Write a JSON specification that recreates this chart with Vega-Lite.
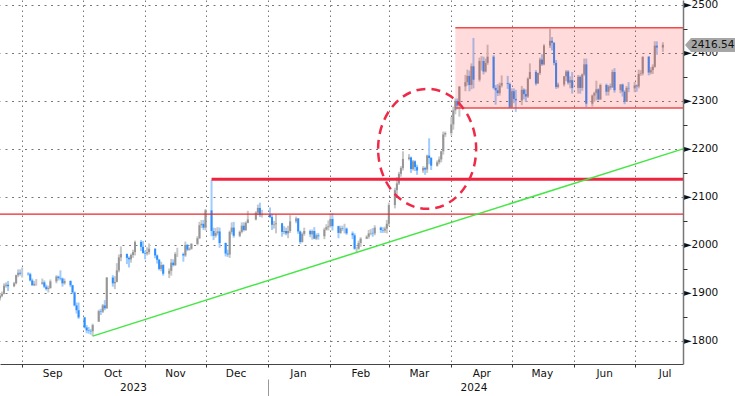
{
"$schema":"https://vega.github.io/schema/vega-lite/v6.json",
"width":683,"height":364,
"autosize":{"type":"none"},
"padding":{"left":0,"top":0,"right":52,"bottom":32},
"background":"white",
"config":{"view":{"stroke":null},"font":"DejaVu Sans","axis":{"title":null}},
"resolve":{"axis":{"x":"independent","y":"independent"}},
"datasets":{"ohlc":[
{"d":"2023-08-21","o":1889,"h":1897,"l":1884,"c":1894},
{"d":"2023-08-22","o":1894,"h":1903,"l":1891,"c":1898},
{"d":"2023-08-23","o":1898,"h":1920,"l":1897,"c":1915},
{"d":"2023-08-24","o":1915,"h":1922,"l":1911,"c":1917},
{"d":"2023-08-25","o":1917,"h":1925,"l":1904,"c":1914},
{"d":"2023-08-28","o":1914,"h":1923,"l":1912,"c":1920},
{"d":"2023-08-29","o":1920,"h":1938,"l":1918,"c":1937},
{"d":"2023-08-30","o":1937,"h":1949,"l":1933,"c":1942},
{"d":"2023-08-31","o":1942,"h":1949,"l":1936,"c":1940},
{"d":"2023-09-01","o":1940,"h":1953,"l":1932,"c":1940},
{"d":"2023-09-04","o":1940,"h":1943,"l":1936,"c":1939},
{"d":"2023-09-05","o":1939,"h":1942,"l":1924,"c":1926},
{"d":"2023-09-06","o":1926,"h":1930,"l":1915,"c":1916},
{"d":"2023-09-07","o":1916,"h":1925,"l":1914,"c":1919},
{"d":"2023-09-08","o":1919,"h":1929,"l":1915,"c":1919},
{"d":"2023-09-11","o":1919,"h":1930,"l":1917,"c":1922},
{"d":"2023-09-12","o":1922,"h":1926,"l":1910,"c":1913},
{"d":"2023-09-13","o":1913,"h":1917,"l":1905,"c":1908},
{"d":"2023-09-14","o":1908,"h":1915,"l":1901,"c":1910},
{"d":"2023-09-15","o":1910,"h":1928,"l":1909,"c":1924},
{"d":"2023-09-18","o":1924,"h":1937,"l":1920,"c":1934},
{"d":"2023-09-19","o":1934,"h":1936,"l":1926,"c":1931},
{"d":"2023-09-20","o":1931,"h":1947,"l":1926,"c":1930},
{"d":"2023-09-21","o":1930,"h":1932,"l":1913,"c":1920},
{"d":"2023-09-22","o":1920,"h":1930,"l":1917,"c":1925},
{"d":"2023-09-25","o":1925,"h":1926,"l":1912,"c":1916},
{"d":"2023-09-26","o":1916,"h":1917,"l":1899,"c":1901},
{"d":"2023-09-27","o":1901,"h":1903,"l":1872,"c":1874},
{"d":"2023-09-28","o":1874,"h":1880,"l":1857,"c":1864},
{"d":"2023-09-29","o":1864,"h":1880,"l":1846,"c":1849},
{"d":"2023-10-02","o":1849,"h":1850,"l":1826,"c":1828},
{"d":"2023-10-03","o":1828,"h":1833,"l":1816,"c":1822},
{"d":"2023-10-04","o":1822,"h":1829,"l":1815,"c":1821},
{"d":"2023-10-05","o":1821,"h":1825,"l":1813,"c":1820},
{"d":"2023-10-06","o":1820,"h":1836,"l":1810,"c":1833},
{"d":"2023-10-09","o":1840,"h":1865,"l":1840,"c":1862},
{"d":"2023-10-10","o":1862,"h":1867,"l":1854,"c":1861},
{"d":"2023-10-11","o":1861,"h":1877,"l":1858,"c":1874},
{"d":"2023-10-12","o":1874,"h":1885,"l":1864,"c":1868},
{"d":"2023-10-13","o":1868,"h":1933,"l":1867,"c":1932},
{"d":"2023-10-16","o":1932,"h":1937,"l":1913,"c":1920},
{"d":"2023-10-17","o":1920,"h":1935,"l":1908,"c":1923},
{"d":"2023-10-18","o":1923,"h":1962,"l":1922,"c":1947},
{"d":"2023-10-19","o":1947,"h":1980,"l":1943,"c":1974},
{"d":"2023-10-20","o":1974,"h":1997,"l":1966,"c":1981},
{"d":"2023-10-23","o":1981,"h":1982,"l":1960,"c":1973},
{"d":"2023-10-24","o":1973,"h":1976,"l":1953,"c":1970},
{"d":"2023-10-25","o":1970,"h":1982,"l":1963,"c":1979},
{"d":"2023-10-26","o":1979,"h":1990,"l":1973,"c":1985},
{"d":"2023-10-27","o":1985,"h":2009,"l":1978,"c":2006},
{"d":"2023-10-30","o":2006,"h":2010,"l":1987,"c":1996},
{"d":"2023-10-31","o":1996,"h":2008,"l":1982,"c":1983},
{"d":"2023-11-01","o":1983,"h":1988,"l":1970,"c":1982},
{"d":"2023-11-02","o":1982,"h":1995,"l":1978,"c":1985},
{"d":"2023-11-03","o":1985,"h":2003,"l":1980,"c":1992},
{"d":"2023-11-06","o":1992,"h":1993,"l":1972,"c":1978},
{"d":"2023-11-07","o":1978,"h":1980,"l":1961,"c":1969},
{"d":"2023-11-08","o":1969,"h":1971,"l":1947,"c":1950},
{"d":"2023-11-09","o":1950,"h":1965,"l":1945,"c":1958},
{"d":"2023-11-10","o":1958,"h":1960,"l":1936,"c":1940},
{"d":"2023-11-13","o":1940,"h":1951,"l":1931,"c":1946},
{"d":"2023-11-14","o":1946,"h":1971,"l":1936,"c":1963},
{"d":"2023-11-15","o":1963,"h":1970,"l":1955,"c":1958},
{"d":"2023-11-16","o":1958,"h":1985,"l":1956,"c":1981},
{"d":"2023-11-17","o":1981,"h":1994,"l":1975,"c":1981},
{"d":"2023-11-20","o":1981,"h":1984,"l":1965,"c":1978},
{"d":"2023-11-21","o":1978,"h":2007,"l":1975,"c":2000},
{"d":"2023-11-22","o":2000,"h":2002,"l":1987,"c":1990},
{"d":"2023-11-23","o":1990,"h":1995,"l":1988,"c":1992},
{"d":"2023-11-24","o":1992,"h":2004,"l":1990,"c":2002},
{"d":"2023-11-27","o":2002,"h":2018,"l":1999,"c":2014},
{"d":"2023-11-28","o":2014,"h":2048,"l":2012,"c":2041},
{"d":"2023-11-29","o":2041,"h":2052,"l":2035,"c":2044},
{"d":"2023-11-30","o":2044,"h":2052,"l":2031,"c":2036},
{"d":"2023-12-01","o":2036,"h":2075,"l":2030,"c":2072},
{"d":"2023-12-04","o":2072,"h":2135,"l":2018,"c":2029},
{"d":"2023-12-05","o":2029,"h":2036,"l":2010,"c":2019},
{"d":"2023-12-06","o":2019,"h":2035,"l":2015,"c":2025},
{"d":"2023-12-07","o":2025,"h":2037,"l":2020,"c":2028},
{"d":"2023-12-08","o":2028,"h":2036,"l":1994,"c":2004},
{"d":"2023-12-11","o":2004,"h":2005,"l":1976,"c":1982},
{"d":"2023-12-12","o":1982,"h":1990,"l":1975,"c":1980},
{"d":"2023-12-13","o":1980,"h":2030,"l":1973,"c":2027},
{"d":"2023-12-14","o":2027,"h":2047,"l":2022,"c":2036},
{"d":"2023-12-15","o":2036,"h":2048,"l":2015,"c":2019},
{"d":"2023-12-18","o":2019,"h":2030,"l":2016,"c":2027},
{"d":"2023-12-19","o":2027,"h":2047,"l":2024,"c":2040},
{"d":"2023-12-20","o":2040,"h":2047,"l":2028,"c":2031},
{"d":"2023-12-21","o":2031,"h":2049,"l":2029,"c":2046},
{"d":"2023-12-22","o":2046,"h":2071,"l":2045,"c":2053},
{"d":"2023-12-26","o":2053,"h":2070,"l":2051,"c":2067},
{"d":"2023-12-27","o":2067,"h":2084,"l":2062,"c":2077},
{"d":"2023-12-28","o":2077,"h":2088,"l":2058,"c":2062},
{"d":"2023-12-29","o":2062,"h":2073,"l":2057,"c":2063},
{"d":"2024-01-02","o":2063,"h":2078,"l":2056,"c":2058},
{"d":"2024-01-03","o":2058,"h":2065,"l":2031,"c":2042},
{"d":"2024-01-04","o":2042,"h":2050,"l":2034,"c":2043},
{"d":"2024-01-05","o":2043,"h":2064,"l":2024,"c":2045},
{"d":"2024-01-08","o":2045,"h":2046,"l":2017,"c":2027},
{"d":"2024-01-09","o":2027,"h":2039,"l":2022,"c":2029},
{"d":"2024-01-10","o":2029,"h":2036,"l":2020,"c":2024},
{"d":"2024-01-11","o":2024,"h":2040,"l":2014,"c":2029},
{"d":"2024-01-12","o":2029,"h":2062,"l":2025,"c":2049},
{"d":"2024-01-15","o":2049,"h":2059,"l":2045,"c":2055},
{"d":"2024-01-16","o":2055,"h":2056,"l":2023,"c":2028},
{"d":"2024-01-17","o":2028,"h":2030,"l":2002,"c":2006},
{"d":"2024-01-18","o":2006,"h":2026,"l":2005,"c":2023},
{"d":"2024-01-19","o":2023,"h":2036,"l":2019,"c":2029},
{"d":"2024-01-22","o":2029,"h":2032,"l":2016,"c":2022},
{"d":"2024-01-23","o":2022,"h":2032,"l":2011,"c":2029},
{"d":"2024-01-24","o":2029,"h":2037,"l":2012,"c":2013},
{"d":"2024-01-25","o":2013,"h":2024,"l":2010,"c":2020},
{"d":"2024-01-26","o":2020,"h":2025,"l":2011,"c":2018},
{"d":"2024-01-29","o":2018,"h":2036,"l":2012,"c":2032},
{"d":"2024-01-30","o":2032,"h":2043,"l":2030,"c":2037},
{"d":"2024-01-31","o":2037,"h":2051,"l":2030,"c":2039},
{"d":"2024-02-01","o":2039,"h":2065,"l":2036,"c":2054},
{"d":"2024-02-02","o":2054,"h":2066,"l":2030,"c":2039},
{"d":"2024-02-05","o":2039,"h":2040,"l":2014,"c":2025},
{"d":"2024-02-06","o":2025,"h":2040,"l":2023,"c":2035},
{"d":"2024-02-07","o":2035,"h":2040,"l":2029,"c":2034},
{"d":"2024-02-08","o":2034,"h":2044,"l":2024,"c":2034},
{"d":"2024-02-09","o":2034,"h":2036,"l":2021,"c":2024},
{"d":"2024-02-12","o":2024,"h":2028,"l":2012,"c":2020},
{"d":"2024-02-13","o":2020,"h":2024,"l":1990,"c":1992},
{"d":"2024-02-14","o":1992,"h":1996,"l":1984,"c":1992},
{"d":"2024-02-15","o":1992,"h":2009,"l":1990,"c":2004},
{"d":"2024-02-16","o":2004,"h":2016,"l":1996,"c":2013},
{"d":"2024-02-19","o":2013,"h":2020,"l":2012,"c":2017},
{"d":"2024-02-20","o":2017,"h":2031,"l":2013,"c":2024},
{"d":"2024-02-21","o":2024,"h":2033,"l":2020,"c":2025},
{"d":"2024-02-22","o":2025,"h":2035,"l":2017,"c":2024},
{"d":"2024-02-23","o":2024,"h":2041,"l":2020,"c":2036},
{"d":"2024-02-26","o":2036,"h":2038,"l":2025,"c":2031},
{"d":"2024-02-27","o":2031,"h":2037,"l":2025,"c":2030},
{"d":"2024-02-28","o":2030,"h":2038,"l":2025,"c":2034},
{"d":"2024-02-29","o":2034,"h":2052,"l":2024,"c":2044},
{"d":"2024-03-01","o":2044,"h":2088,"l":2039,"c":2083},
{"d":"2024-03-04","o":2083,"h":2119,"l":2076,"c":2114},
{"d":"2024-03-05","o":2114,"h":2141,"l":2104,"c":2128},
{"d":"2024-03-06","o":2128,"h":2152,"l":2125,"c":2148},
{"d":"2024-03-07","o":2148,"h":2164,"l":2142,"c":2160},
{"d":"2024-03-08","o":2160,"h":2195,"l":2155,"c":2179},
{"d":"2024-03-11","o":2179,"h":2189,"l":2176,"c":2182},
{"d":"2024-03-12","o":2182,"h":2184,"l":2150,"c":2158},
{"d":"2024-03-13","o":2158,"h":2177,"l":2155,"c":2174},
{"d":"2024-03-14","o":2174,"h":2176,"l":2154,"c":2162},
{"d":"2024-03-15","o":2162,"h":2167,"l":2146,"c":2155},
{"d":"2024-03-18","o":2155,"h":2164,"l":2150,"c":2160},
{"d":"2024-03-19","o":2160,"h":2163,"l":2146,"c":2157},
{"d":"2024-03-20","o":2157,"h":2188,"l":2150,"c":2186},
{"d":"2024-03-21","o":2186,"h":2222,"l":2168,"c":2181},
{"d":"2024-03-22","o":2181,"h":2183,"l":2156,"c":2165},
{"d":"2024-03-25","o":2165,"h":2176,"l":2163,"c":2172},
{"d":"2024-03-26","o":2172,"h":2184,"l":2168,"c":2178},
{"d":"2024-03-27","o":2178,"h":2196,"l":2172,"c":2195},
{"d":"2024-03-28","o":2195,"h":2236,"l":2188,"c":2230},
{"d":"2024-03-29","o":2230,"h":2236,"l":2225,"c":2233},
{"d":"2024-04-01","o":2233,"h":2266,"l":2228,"c":2251},
{"d":"2024-04-02","o":2251,"h":2288,"l":2240,"c":2280},
{"d":"2024-04-03","o":2280,"h":2305,"l":2272,"c":2300},
{"d":"2024-04-04","o":2300,"h":2305,"l":2282,"c":2290},
{"d":"2024-04-05","o":2290,"h":2330,"l":2267,"c":2330},
{"d":"2024-04-08","o":2330,"h":2354,"l":2320,"c":2339},
{"d":"2024-04-09","o":2339,"h":2365,"l":2332,"c":2352},
{"d":"2024-04-10","o":2352,"h":2363,"l":2320,"c":2333},
{"d":"2024-04-11","o":2333,"h":2378,"l":2324,"c":2372},
{"d":"2024-04-12","o":2372,"h":2431,"l":2326,"c":2344},
{"d":"2024-04-15","o":2344,"h":2390,"l":2340,"c":2383},
{"d":"2024-04-16","o":2383,"h":2393,"l":2363,"c":2383},
{"d":"2024-04-17","o":2383,"h":2392,"l":2355,"c":2361},
{"d":"2024-04-18","o":2361,"h":2388,"l":2359,"c":2379},
{"d":"2024-04-19","o":2379,"h":2417,"l":2375,"c":2392},
{"d":"2024-04-22","o":2392,"h":2395,"l":2324,"c":2327},
{"d":"2024-04-23","o":2327,"h":2333,"l":2292,"c":2322},
{"d":"2024-04-24","o":2322,"h":2335,"l":2310,"c":2316},
{"d":"2024-04-25","o":2316,"h":2338,"l":2311,"c":2332},
{"d":"2024-04-26","o":2332,"h":2353,"l":2328,"c":2337},
{"d":"2024-04-29","o":2337,"h":2352,"l":2325,"c":2335},
{"d":"2024-04-30","o":2335,"h":2338,"l":2285,"c":2286},
{"d":"2024-05-01","o":2286,"h":2326,"l":2285,"c":2320},
{"d":"2024-05-02","o":2320,"h":2326,"l":2295,"c":2304},
{"d":"2024-05-03","o":2304,"h":2323,"l":2277,"c":2301},
{"d":"2024-05-06","o":2301,"h":2331,"l":2291,"c":2323},
{"d":"2024-05-07","o":2323,"h":2326,"l":2303,"c":2314},
{"d":"2024-05-08","o":2314,"h":2324,"l":2298,"c":2309},
{"d":"2024-05-09","o":2309,"h":2349,"l":2306,"c":2346},
{"d":"2024-05-10","o":2346,"h":2378,"l":2345,"c":2360},
{"d":"2024-05-13","o":2360,"h":2364,"l":2332,"c":2336},
{"d":"2024-05-14","o":2336,"h":2359,"l":2336,"c":2358},
{"d":"2024-05-15","o":2358,"h":2390,"l":2354,"c":2386},
{"d":"2024-05-16","o":2386,"h":2397,"l":2373,"c":2376},
{"d":"2024-05-17","o":2376,"h":2418,"l":2374,"c":2415},
{"d":"2024-05-20","o":2415,"h":2450,"l":2410,"c":2425},
{"d":"2024-05-21","o":2425,"h":2433,"l":2405,"c":2421},
{"d":"2024-05-22","o":2421,"h":2422,"l":2374,"c":2379},
{"d":"2024-05-23","o":2379,"h":2385,"l":2325,"c":2329},
{"d":"2024-05-24","o":2329,"h":2338,"l":2326,"c":2334},
{"d":"2024-05-27","o":2334,"h":2352,"l":2330,"c":2351},
{"d":"2024-05-28","o":2351,"h":2364,"l":2341,"c":2361},
{"d":"2024-05-29","o":2361,"h":2364,"l":2334,"c":2338},
{"d":"2024-05-30","o":2338,"h":2351,"l":2326,"c":2343},
{"d":"2024-05-31","o":2343,"h":2360,"l":2315,"c":2327},
{"d":"2024-06-03","o":2327,"h":2354,"l":2315,"c":2350},
{"d":"2024-06-04","o":2350,"h":2353,"l":2315,"c":2327},
{"d":"2024-06-05","o":2327,"h":2357,"l":2321,"c":2355},
{"d":"2024-06-06","o":2355,"h":2388,"l":2352,"c":2376},
{"d":"2024-06-07","o":2376,"h":2388,"l":2287,"c":2294},
{"d":"2024-06-10","o":2294,"h":2313,"l":2288,"c":2311},
{"d":"2024-06-11","o":2311,"h":2319,"l":2298,"c":2316},
{"d":"2024-06-12","o":2316,"h":2342,"l":2301,"c":2324},
{"d":"2024-06-13","o":2324,"h":2326,"l":2301,"c":2303},
{"d":"2024-06-14","o":2303,"h":2336,"l":2302,"c":2333},
{"d":"2024-06-17","o":2333,"h":2336,"l":2311,"c":2319},
{"d":"2024-06-18","o":2319,"h":2333,"l":2311,"c":2330},
{"d":"2024-06-19","o":2330,"h":2336,"l":2323,"c":2328},
{"d":"2024-06-20","o":2328,"h":2365,"l":2327,"c":2360},
{"d":"2024-06-21","o":2360,"h":2368,"l":2317,"c":2322},
{"d":"2024-06-24","o":2322,"h":2335,"l":2316,"c":2334},
{"d":"2024-06-25","o":2334,"h":2336,"l":2309,"c":2319},
{"d":"2024-06-26","o":2319,"h":2322,"l":2293,"c":2298},
{"d":"2024-06-27","o":2298,"h":2331,"l":2298,"c":2327},
{"d":"2024-06-28","o":2327,"h":2339,"l":2318,"c":2326},
{"d":"2024-07-01","o":2326,"h":2339,"l":2318,"c":2332},
{"d":"2024-07-02","o":2332,"h":2334,"l":2319,"c":2330},
{"d":"2024-07-03","o":2330,"h":2365,"l":2326,"c":2356},
{"d":"2024-07-04","o":2356,"h":2364,"l":2352,"c":2357},
{"d":"2024-07-05","o":2357,"h":2392,"l":2353,"c":2392},
{"d":"2024-07-08","o":2392,"h":2393,"l":2353,"c":2359},
{"d":"2024-07-09","o":2359,"h":2370,"l":2355,"c":2364},
{"d":"2024-07-10","o":2364,"h":2376,"l":2356,"c":2371},
{"d":"2024-07-11","o":2371,"h":2424,"l":2369,"c":2415},
{"d":"2024-07-12","o":2415,"h":2424,"l":2396,"c":2411},
{"d":"2024-07-15","o":2411,"h":2422,"l":2402,"c":2416.54}
]},
"layer":[
{"data":{"name":"ohlc"},
 "mark":{"type":"rule","strokeWidth":2},
 "encoding":{
  "x":{"field":"d","type":"temporal",
   "scale":{"type":"utc","domain":[{"year":2023,"month":8,"date":21,"utc":true},{"year":2024,"month":7,"date":25,"utc":true}]},
   "axis":{"orient":"bottom","values":[
     {"year":2023,"month":9,"date":1,"utc":true},{"year":2023,"month":10,"date":1,"utc":true},{"year":2023,"month":11,"date":1,"utc":true},{"year":2023,"month":12,"date":1,"utc":true},
     {"year":2024,"month":1,"date":1,"utc":true},{"year":2024,"month":2,"date":1,"utc":true},{"year":2024,"month":3,"date":1,"utc":true},{"year":2024,"month":4,"date":1,"utc":true},
     {"year":2024,"month":5,"date":1,"utc":true},{"year":2024,"month":6,"date":1,"utc":true},{"year":2024,"month":7,"date":1,"utc":true}],
    "labelExpr":"utcFormat(datum.value, '%b')",
    "labelOffset":30,"labelAlign":"center","labelOverlap":false,"labelFlush":false,
    "labelPadding":1,"labelFontSize":10.5,"labelColor":"#111111",
    "tickSize":3,"tickColor":"#333333","domainColor":"#444444","domainWidth":1,
    "grid":true,"gridColor":"#777777","gridDash":[1.5,3.5],"gridWidth":1,"title":null}},
  "y":{"field":"l","type":"quantitative",
   "scale":{"domain":[1752,2510],"nice":false,"zero":false},
   "axis":{"orient":"right","values":[1800,1900,2000,2100,2200,2300,2400,2500],
    "labelExpr":"'►' + datum.value",
    "ticks":false,
    "labelPadding":0,"labelFontSize":10.5,"labelColor":"#111111","labelOverlap":false,"labelFlush":false,
    "domainColor":"#777777","domainWidth":1.5,
    "grid":true,"gridColor":"#777777","gridDash":[2,4.5],"gridWidth":1,
    "title":null}},
  "y2":{"field":"h"},
  "color":{"condition":{"test":"datum.c >= datum.o","value":"#c8c8c8"},"value":"#9fcdff"}
 }},
{"data":{"name":"ohlc"},
 "mark":{"type":"rule","strokeWidth":2},
 "encoding":{
  "x":{"field":"d","type":"temporal","scale":{"type":"utc","domain":[{"year":2023,"month":8,"date":21,"utc":true},{"year":2024,"month":7,"date":25,"utc":true}]},"axis":null},
  "y":{"field":"o","type":"quantitative","scale":{"domain":[1752,2510],"nice":false,"zero":false},"axis":null},
  "y2":{"field":"c"},
  "color":{"condition":{"test":"datum.c >= datum.o","value":"#969696"},"value":"#2d8fff"}
 }},
{"data":{"values":[{"a":"2024-04-03","b":"2024-07-25","lo":2285,"hi":2452}]},
 "mark":{"type":"rect","color":"#ff2020","opacity":0.16},
 "encoding":{
  "x":{"field":"a","type":"temporal","scale":{"type":"utc","domain":[{"year":2023,"month":8,"date":21,"utc":true},{"year":2024,"month":7,"date":25,"utc":true}]},"axis":null},
  "x2":{"field":"b"},
  "y":{"field":"lo","type":"quantitative","scale":{"domain":[1752,2510],"nice":false,"zero":false},"axis":null},
  "y2":{"field":"hi"}
 }},
{"data":{"values":[{"a":"2024-04-03","b":"2024-07-25","v":2452},{"a":"2024-04-03","b":"2024-07-25","v":2285}]},
 "mark":{"type":"rule","color":"#f04a4a","strokeWidth":1.5},
 "encoding":{
  "x":{"field":"a","type":"temporal","scale":{"type":"utc","domain":[{"year":2023,"month":8,"date":21,"utc":true},{"year":2024,"month":7,"date":25,"utc":true}]},"axis":null},
  "x2":{"field":"b"},
  "y":{"field":"v","type":"quantitative","scale":{"domain":[1752,2510],"nice":false,"zero":false},"axis":null}
 }},
{"data":{"values":[{"a":"2023-08-21","b":"2024-07-25","v":2064}]},
 "mark":{"type":"rule","color":"#e8262b","strokeWidth":1.3},
 "encoding":{
  "x":{"field":"a","type":"temporal","scale":{"type":"utc","domain":[{"year":2023,"month":8,"date":21,"utc":true},{"year":2024,"month":7,"date":25,"utc":true}]},
   "axis":{"orient":"bottom","offset":15,"domain":false,"grid":false,
    "values":[{"year":2023,"month":10,"date":26,"utc":true},{"year":2024,"month":1,"date":1,"utc":true},{"year":2024,"month":4,"date":12,"utc":true}],
    "labelExpr":"utcmonth(datum.value) == 0 ? '' : utcFormat(datum.value, '%Y')",
    "tickSize":17,"tickColor":"#999999",
    "tickOpacity":{"condition":{"test":"utcmonth(datum.value) == 0","value":1},"value":0},
    "labelPadding":-14,"labelFontSize":10.5,"labelColor":"#111111","labelAlign":"center","labelOverlap":false,"labelFlush":false,"title":null}},
  "x2":{"field":"b"},
  "y":{"field":"v","type":"quantitative","scale":{"domain":[1752,2510],"nice":false,"zero":false},"axis":null}
 }},
{"data":{"values":[{"a":"2023-12-04","b":"2024-07-25","v":2136.5}]},
 "mark":{"type":"rule","color":"#f0233f","strokeWidth":3},
 "encoding":{
  "x":{"field":"a","type":"temporal","scale":{"type":"utc","domain":[{"year":2023,"month":8,"date":21,"utc":true},{"year":2024,"month":7,"date":25,"utc":true}]},"axis":null},
  "x2":{"field":"b"},
  "y":{"field":"v","type":"quantitative","scale":{"domain":[1752,2510],"nice":false,"zero":false},"axis":null}
 }},
{"data":{"values":[{"a":"2023-10-06","b":"2024-07-25","v":1810,"v2":2200}]},
 "mark":{"type":"rule","color":"#45e645","strokeWidth":1.5},
 "encoding":{
  "x":{"field":"a","type":"temporal","scale":{"type":"utc","domain":[{"year":2023,"month":8,"date":21,"utc":true},{"year":2024,"month":7,"date":25,"utc":true}]},"axis":null},
  "x2":{"field":"b"},
  "y":{"field":"v","type":"quantitative","scale":{"domain":[1752,2510],"nice":false,"zero":false},
   "axis":{"orient":"right","values":[1750,1850,1950,2050,2150,2250,2350,2450],"labels":false,"grid":false,"domain":false,"tickSize":4,"tickColor":"#333333","title":null}},
  "y2":{"field":"v2"}
 }},
{"data":{"values":[{"d":"2024-03-20","p":2200}]},
 "mark":{"type":"point","shape":"M-0.817,0A0.817,1 0 1,1 0.817,0A0.817,1 0 1,1 -0.817,0Z","size":14400,"filled":false,"color":"#ee2a48","strokeWidth":2.5,"strokeDash":[9,6],"opacity":1},
 "encoding":{
  "x":{"field":"d","type":"temporal","scale":{"type":"utc","domain":[{"year":2023,"month":8,"date":21,"utc":true},{"year":2024,"month":7,"date":25,"utc":true}]},"axis":null},
  "y":{"field":"p","type":"quantitative","scale":{"domain":[1752,2510],"nice":false,"zero":false},"axis":null}
 }},
{"data":{"values":[{"d":"2024-07-25","p":2416.54,"t":"2416.54"}]},
 "mark":{"type":"point","shape":"M0,0L0.12,-0.14L1,-0.14L1,0.14L0.12,0.14Z","size":10000,"filled":true,"color":"#a6a6a6","opacity":1,"xOffset":2},
 "encoding":{
  "x":{"field":"d","type":"temporal","scale":{"type":"utc","domain":[{"year":2023,"month":8,"date":21,"utc":true},{"year":2024,"month":7,"date":25,"utc":true}]},"axis":null},
  "y":{"field":"p","type":"quantitative","scale":{"domain":[1752,2510],"nice":false,"zero":false},"axis":null}
 }},
{"data":{"values":[{"d":"2024-07-25","p":2416.54,"t":"2416.54"}]},
 "mark":{"type":"text","align":"left","baseline":"middle","dx":8,"fontSize":10.5,"color":"#111111"},
 "encoding":{
  "x":{"field":"d","type":"temporal","scale":{"type":"utc","domain":[{"year":2023,"month":8,"date":21,"utc":true},{"year":2024,"month":7,"date":25,"utc":true}]},"axis":null},
  "y":{"field":"p","type":"quantitative","scale":{"domain":[1752,2510],"nice":false,"zero":false},"axis":null},
  "text":{"field":"t"}
 }}
]
}
